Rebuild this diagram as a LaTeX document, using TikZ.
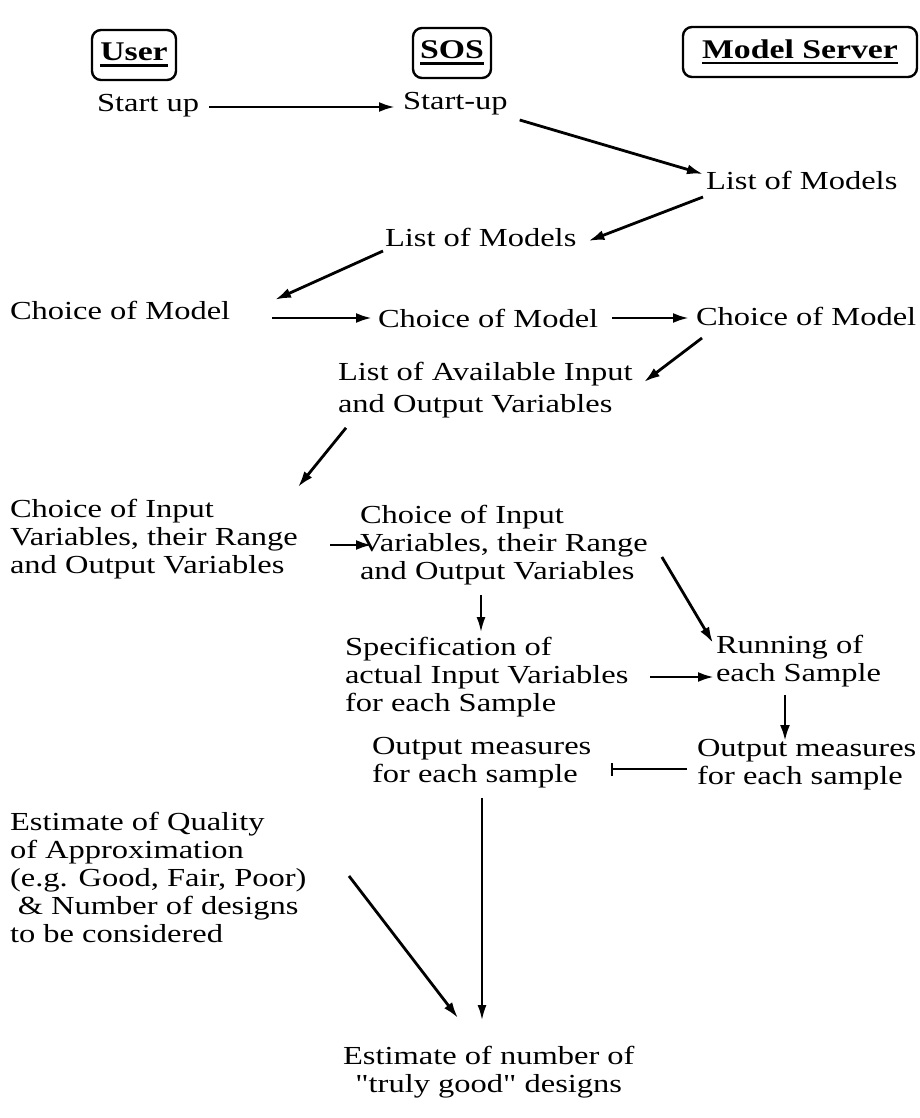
\documentclass[tikz,border=0pt]{standalone}
\usepackage{fontspec}
\setmainfont{Liberation Serif}[FakeStretch=1.25, Ligatures=TeXOff]
\usetikzlibrary{arrows.meta,calc}
% thick underline for the column headings
\newcommand\headul[1]{\setbox0\hbox{#1}\leavevmode\rlap{\raisebox{-6pt}{\rule{\wd0}{2.6pt}}}\box0}
\begin{document}
\begin{tikzpicture}[x=1pt,y=-1pt,
  every node/.style={inner sep=0pt, outer sep=0pt, font=\fontsize{26}{28}\selectfont},
  txt/.style={anchor=west, align=left},
  blk/.style={anchor=north west, align=left},
  head/.style={draw, line width=2.4pt, rounded corners=9pt, minimum height=50pt,
    font=\fontsize{27}{30}\selectfont\bfseries},
  arr/.style={line width=2.8pt, -{Latex[length=16pt,width=10pt]}},
  tarr/.style={line width=1.8pt, -{Latex[length=15pt,width=9pt]}},
  bararr/.style={line width=2pt, -{Bar[width=13pt,line width=2.4pt]}},
  ]
\useasboundingbox (0,0) rectangle (919,1118);

% column headings
\node[head, minimum width=84pt]  (huser) at (134,55) {\headul{User}};
\node[head, minimum width=78pt]  (hsos)  at (452,53) {\headul{SOS}};
\node[head, minimum width=234pt] (hms)   at (800,52) {\headul{Model Server}};

% steps
\node[txt] (usu) at (97,106)  {Start up};
\node[txt] (ssu) at (403,104) {Start-up};
\node[txt] (mlm) at (706,180) {List of Models};
\node[txt] (slm) at (385,237) {List of Models};
\node[txt] (ucm) at (10,310)  {Choice of Model};
\node[txt] (scm) at (378,318) {Choice of Model};
\node[txt] (mcm) at (696,316) {Choice of Model};
\node[blk] (mav) at (338,362) {List of Available Input\\[4pt]and Output Variables};
\node[blk] (uci) at (10,499)  {Choice of Input\\Variables, their Range\\and Output Variables};
\node[blk] (sci) at (360,505) {Choice of Input\\Variables, their Range\\and Output Variables};
\node[blk] (ssp) at (345,637) {Specification of\\actual Input Variables\\for each Sample};
\node[blk] (mrun) at (716,635) {Running of\\each Sample};
\node[blk] (mom) at (697,739) {Output measures\\for each sample};
\node[blk] (som) at (372,737) {Output measures\\for each sample};
\node[blk] (uest) at (10,812) {Estimate of Quality\\of Approximation\\(e.g. Good, Fair, Poor)\\\hspace{0.3em}\& Number of designs\\to be considered};
\node[blk, align=center] (sest) at (343,1046) {Estimate of number of\\"truly good" designs};

% connectors
\draw[arr] ($(usu.east)+(10,1)$) -- ($(ssu.west)+(-8,3)$);
\draw[arr] ($(ssu.east)+(12,16)$) -- ($(mlm.west)+(-3,-6)$);
\draw[arr] ($(mlm.west)+(-3,17)$) -- ($(slm.east)+(12,4)$);
\draw[arr] ($(slm.west)+(-2,14)$) -- ($(ucm.north west)+(265,-1)$);
\draw[arr] ($(ucm.east)+(42,8)$) -- ($(scm.west)+(-6,0)$);
\draw[arr] ($(scm.east)+(14,0)$) -- ($(mcm.west)+(-7,2)$);
\draw[arr] ($(mcm.west)+(6,22)$) -- ($(mav.north west)+(306,20)$);
\draw[arr] ($(mav.south west)+(8,10)$) -- ($(uci.north west)+(288,-12)$);
\draw[arr] ($(uci.north west)+(320,46)$) -- ($(sci.north west)+(12,40)$);
\draw[tarr] ($(sci.south west)+(121,10)$) -- ($(ssp.north west)+(136,-5)$);
\draw[arr] ($(sci.north east)+(14,52)$) -- ($(mrun.north west)+(-3,8)$);
\draw[arr] ($(ssp.north west)+(305,40)$) -- ($(mrun.north west)+(-2,42)$);
\draw[arr] ($(mrun.south west)+(69,8)$) -- ($(mom.north west)+(88,2)$);
\draw[bararr] ($(mom.north west)+(-10,30)$) -- ($(som.north west)+(239,32)$);
\draw[tarr] ($(som.south west)+(110,10)$) -- ($(sest.north west)+(139,-26)$);
\draw[arr] ($(uest.north west)+(339,64)$) -- ($(sest.north west)+(115,-28)$);
\end{tikzpicture}
\end{document}
